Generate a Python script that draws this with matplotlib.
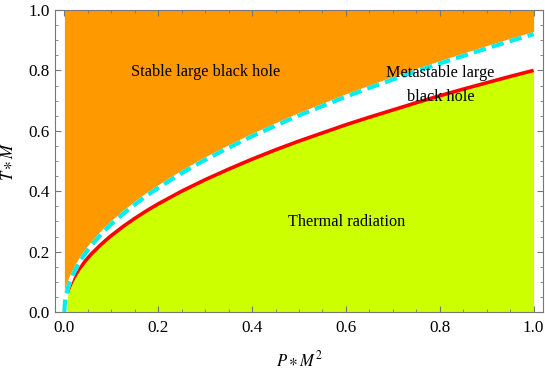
import matplotlib
matplotlib.use("Agg")
import matplotlib.pyplot as plt
from matplotlib.ticker import MultipleLocator

plt.rcParams['font.family'] = ['Liberation Serif', 'DejaVu Serif']
plt.rcParams['mathtext.fontset'] = 'stix'

# Red curve (lower boundary of metastable region)
red_x = [0.006, 0.008, 0.01, 0.015, 0.02, 0.03, 0.04, 0.05, 0.06, 0.075, 0.09, 0.1, 0.125, 0.15, 0.175,
         0.2, 0.25, 0.3, 0.35, 0.4, 0.45, 0.5, 0.55, 0.6, 0.65, 0.7, 0.75, 0.8, 0.85, 0.9, 0.95, 1.0]
red_y = [0.062, 0.072, 0.08, 0.098, 0.113, 0.139, 0.16, 0.179, 0.196, 0.219, 0.24, 0.253, 0.283, 0.31, 0.335,
         0.358, 0.4, 0.438, 0.473, 0.506, 0.537, 0.566, 0.593, 0.62, 0.645, 0.669, 0.693, 0.716, 0.738, 0.759, 0.78, 0.8]

# Cyan dashed curve (upper boundary)
cyan_x = [0.0, 0.001, 0.002, 0.003, 0.006, 0.01, 0.015, 0.02, 0.03, 0.04, 0.05, 0.06, 0.075, 0.09, 0.1, 0.125,
          0.15, 0.175, 0.2, 0.25, 0.3, 0.35, 0.4, 0.45, 0.5, 0.55, 0.6, 0.65, 0.7, 0.75, 0.8, 0.85, 0.9, 0.95, 1.0]
cyan_y = [0.0, 0.029, 0.041, 0.05, 0.071, 0.092, 0.113, 0.13, 0.159, 0.184, 0.206, 0.225, 0.252, 0.276, 0.291, 0.325,
          0.356, 0.385, 0.411, 0.46, 0.504, 0.544, 0.582, 0.617, 0.651, 0.682, 0.713, 0.742, 0.77, 0.797, 0.823, 0.848, 0.873, 0.897, 0.92]

region_labels = ["Stable large black hole", "Metastable large", "black hole", "Thermal radiation"]
label_pos = [(0.302, 0.795), (0.80, 0.79), (0.803, 0.712), (0.602, 0.298)]

orange = '#FF9900'
lime = '#CCFF00'

fig = plt.figure(figsize=(5.45, 3.69), dpi=100)
ax = fig.add_axes([55/545, 57/369, 488/545, 302/369])

ax.fill_between(cyan_x, cyan_y, 1.0, color=orange, linewidth=0, zorder=1)
ax.fill_between(red_x, 0.0, red_y, color=lime, linewidth=0, zorder=1)

ax.plot(red_x, red_y, color='#FF0000', lw=2.6, zorder=3, solid_capstyle='butt')
ax.plot(cyan_x, cyan_y, color='white', lw=3.0, zorder=3.5)
ax.plot(cyan_x, cyan_y, color='#00EEEE', lw=3.0, zorder=4, dashes=(3.0, 1.5))

for txt, (px, py) in zip(region_labels, label_pos):
    ax.text(px, py, txt, ha='center', va='center', fontsize=11.7, zorder=5)

ax.set_xlim(-0.02, 1.02)
ax.set_ylim(0, 1)
ax.xaxis.set_minor_locator(MultipleLocator(0.05))
ax.yaxis.set_minor_locator(MultipleLocator(0.05))
ax.set_xticks([0, 0.2, 0.4, 0.6, 0.8, 1.0])
ax.set_xticklabels(['0.0', '0.2', '0.4', '0.6', '0.8', '1.0'])
ax.set_yticks([0, 0.2, 0.4, 0.6, 0.8, 1.0])
ax.set_yticklabels(['0.0', '0.2', '0.4', '0.6', '0.8', '1.0'])
ax.tick_params(which='both', direction='in', top=True, right=True, color='#777777', labelsize=12.3)
ax.tick_params(which='major', length=4.5, width=0.8)
ax.tick_params(axis='x', which='major', pad=6)
ax.tick_params(axis='y', which='major', pad=4)
ax.tick_params(which='minor', length=2.5, width=0.6)
for s in ax.spines.values():
    s.set_color('#777777')
    s.set_linewidth(0.8)

ax.set_xlabel(r'$P\ast M^2$', fontsize=12, labelpad=10)
ax.set_ylabel(r'$T\ast M$', fontsize=12, labelpad=8)

fig.savefig('out.png', dpi=100)
